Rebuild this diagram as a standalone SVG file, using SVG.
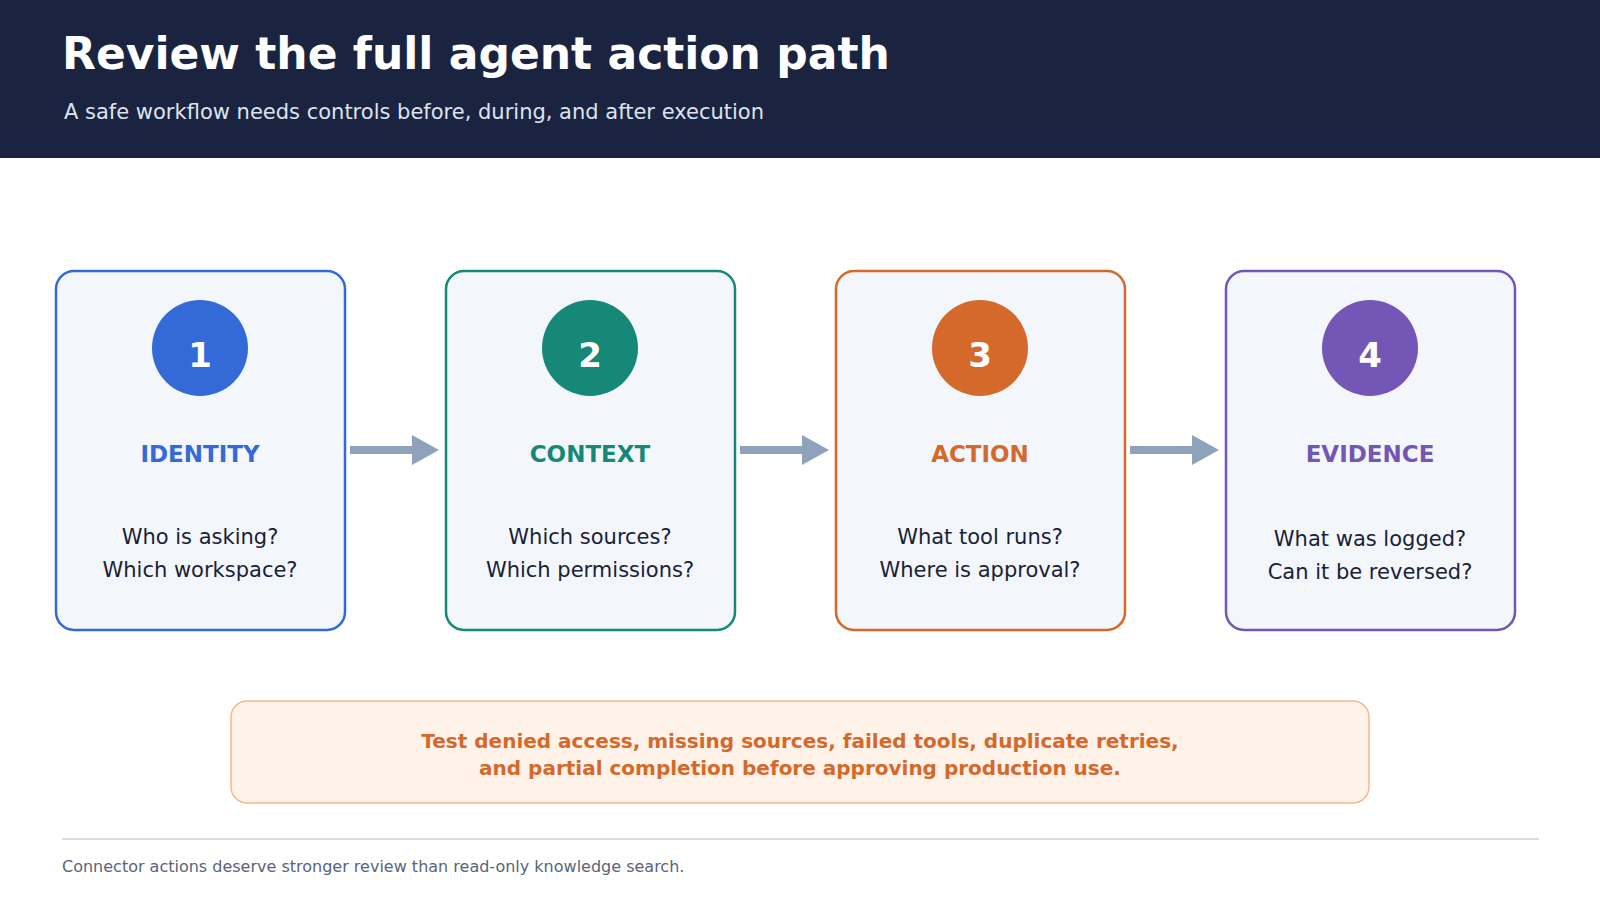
<svg xmlns="http://www.w3.org/2000/svg" width="1600" height="900" viewBox="0 0 1600 900">
<style>
text{font-family:"DejaVu Sans",sans-serif}
.box{fill:#f3f6fb;stroke-width:2.5}
.num{fill:#fff;font-size:34px;font-weight:bold;text-anchor:middle}
.lbl{font-size:23px;font-weight:bold;text-anchor:middle}
.q{fill:#1a2236;font-size:21px;text-anchor:middle}
.arr{fill:#8fa2bb}
</style>
<rect width="1600" height="900" fill="#fff"/>
<rect width="1600" height="158" fill="#1a2440"/>
<text x="62" y="69" font-size="44" font-weight="bold" fill="#fff">Review the full agent action path</text>
<text x="64" y="119" font-size="21" fill="#dde3ee">A safe workflow needs controls before, during, and after execution</text>
<g id="node1"><rect class="box" x="56" y="271" width="289" height="359" rx="18" stroke="#3469d8"/><circle cx="200" cy="348" r="48" fill="#3469d8"/><text class="num" x="200" y="367">1</text><text class="lbl" x="200" y="462" fill="#3469d8">IDENTITY</text><text class="q" x="200" y="544">Who is asking?</text><text class="q" x="200" y="577">Which workspace?</text></g>
<g id="node2"><rect class="box" x="446" y="271" width="289" height="359" rx="18" stroke="#168878"/><circle cx="590" cy="348" r="48" fill="#168878"/><text class="num" x="590" y="367">2</text><text class="lbl" x="590" y="462" fill="#168878">CONTEXT</text><text class="q" x="590" y="544">Which sources?</text><text class="q" x="590" y="577">Which permissions?</text></g>
<g id="node3"><rect class="box" x="836" y="271" width="289" height="359" rx="18" stroke="#d4692b"/><circle cx="980" cy="348" r="48" fill="#d4692b"/><text class="num" x="980" y="367">3</text><text class="lbl" x="980" y="462" fill="#d4692b">ACTION</text><text class="q" x="980" y="544">What tool runs?</text><text class="q" x="980" y="577">Where is approval?</text></g>
<g id="node4"><rect class="box" x="1226" y="271" width="289" height="359" rx="18" stroke="#7356b5"/><circle cx="1370" cy="348" r="48" fill="#7356b5"/><text class="num" x="1370" y="367">4</text><text class="lbl" x="1370" y="462" fill="#7356b5">EVIDENCE</text><text class="q" x="1370" y="546">What was logged?</text><text class="q" x="1370" y="579">Can it be reversed?</text></g>
<g id="connectors">
<path class="arr" d="M350 446h62v-11l27 15l-27 15v-11h-62z"/>
<path class="arr" d="M740 446h62v-11l27 15l-27 15v-11h-62z"/>
<path class="arr" d="M1130 446h62v-11l27 15l-27 15v-11h-62z"/>
</g>
<g id="note"><rect x="231" y="701" width="1138" height="102" rx="16" fill="#fff2e9" stroke="#f2b98f" stroke-width="1.5"/>
<text x="800" y="748" font-size="20" font-weight="bold" fill="#d4692b" text-anchor="middle">Test denied access, missing sources, failed tools, duplicate retries,</text>
<text x="800" y="775" font-size="20" font-weight="bold" fill="#d4692b" text-anchor="middle">and partial completion before approving production use.</text></g>
<line x1="62" y1="839" x2="1539" y2="839" stroke="#cbd3de" stroke-width="1.5"/>
<text x="62" y="872" font-size="16" fill="#5a6478">Connector actions deserve stronger review than read-only knowledge search.</text>
</svg>
